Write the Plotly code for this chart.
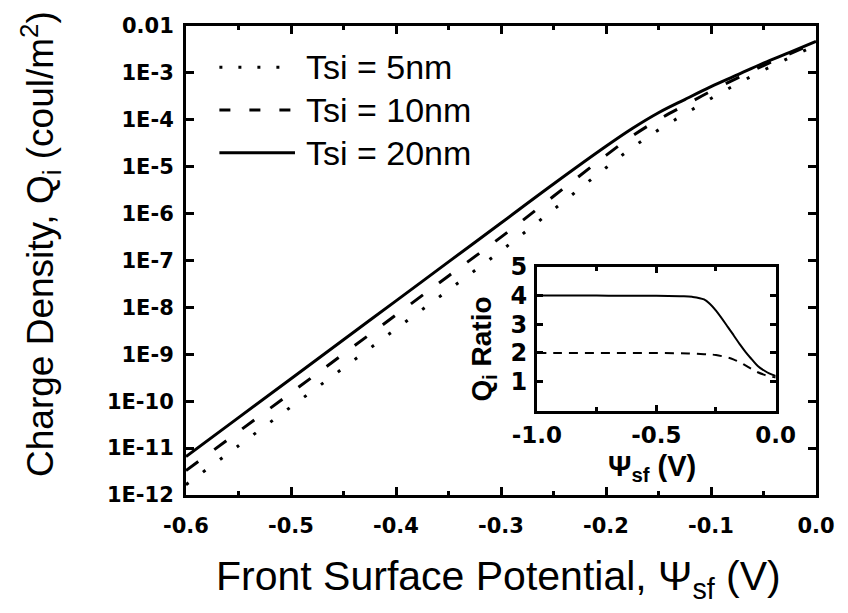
import plotly.graph_objects as go

# ---------------- data ----------------
psi = [-0.6, -0.55, -0.5, -0.45, -0.4, -0.35, -0.3, -0.25, -0.2, -0.175,
       -0.15, -0.125, -0.1, -0.075, -0.05, -0.025, 0.0]
q_5nm = [1.66e-12, 1.12e-11, 7.59e-11, 5.13e-10, 3.47e-9, 2.34e-8, 1.61e-7,
         1.22e-6, 9.5e-6, 2.55e-5, 6.1e-5, 1.33e-4, 2.85e-4, 5.85e-4,
         1.14e-3, 2.12e-3, 3.90e-3]
q_10nm = [3.31e-12, 2.24e-11, 1.51e-10, 1.02e-9, 6.92e-9, 4.68e-8, 3.15e-7,
          2.34e-6, 1.74e-5, 4.5e-5, 1.01e-4, 2.04e-4, 4.08e-4, 7.75e-4,
          1.43e-3, 2.54e-3, 4.49e-3]
q_20nm = [6.61e-12, 4.47e-11, 3.02e-10, 2.04e-9, 1.38e-8, 9.33e-8, 6.31e-7,
          4.27e-6, 2.72e-5, 6.5e-5, 1.41e-4, 2.70e-4, 5.08e-4, 9.05e-4,
          1.62e-3, 2.75e-3, 4.68e-3]

inset_psi = [-1.0, -0.9, -0.8, -0.7, -0.6, -0.5, -0.4, -0.35, -0.3, -0.275,
             -0.25, -0.2, -0.175, -0.15, -0.125, -0.1, -0.075, -0.05, -0.025, 0.0]
ratio_20 = [4.0, 4.0, 4.0, 3.99, 3.99, 3.99, 3.97, 3.95, 3.86, 3.70,
            3.47, 2.9, 2.6, 2.3, 2.02, 1.78, 1.55, 1.4, 1.28, 1.2]
ratio_10 = [2.0, 2.0, 2.0, 2.0, 2.0, 2.0, 1.99, 1.98, 1.96, 1.95,
            1.93, 1.84, 1.77, 1.68, 1.56, 1.44, 1.33, 1.25, 1.19, 1.15]

x_ticks = [-0.6, -0.5, -0.4, -0.3, -0.2, -0.1, 0.0]
x_ticktext = ["-0.6", "-0.5", "-0.4", "-0.3", "-0.2", "-0.1", "0.0"]
y_ticks = [1e-12, 1e-11, 1e-10, 1e-9, 1e-8, 1e-7, 1e-6, 1e-5, 1e-4, 1e-3, 1e-2]
y_ticktext = ["1E-12", "1E-11", "1E-10", "1E-9", "1E-8", "1E-7", "1E-6",
              "1E-5", "1E-4", "1E-3", "0.01"]
inset_x_ticks = [-1.0, -0.5, 0.0]
inset_x_ticktext = ["-1.0", "-0.5", "0.0"]
inset_y_ticks = [1, 2, 3, 4, 5]

legend_labels = ["Tsi = 5nm", "Tsi = 10nm", "Tsi = 20nm"]

# ---------------- styles ----------------
BLACK = "#000000"
DOT = "3px,18px"
DASH = "15px,20px"
TICKFONT = dict(family="DejaVu Sans", size=21, color=BLACK, weight="bold")
INSET_XTICKFONT = dict(family="DejaVu Sans", size=23, color=BLACK, weight="bold")
INSET_YTICKFONT = dict(family="DejaVu Sans", size=24, color=BLACK, weight="bold")
SANS = "Liberation Sans, Arial"

fig = go.Figure()

fig.add_trace(go.Scatter(x=psi, y=q_5nm, mode="lines",
                         line=dict(color=BLACK, width=3, dash=DOT, shape="spline"),
                         showlegend=False))
fig.add_trace(go.Scatter(x=psi, y=q_10nm, mode="lines",
                         line=dict(color=BLACK, width=3, dash=DASH, shape="spline"),
                         showlegend=False))
fig.add_trace(go.Scatter(x=psi, y=q_20nm, mode="lines",
                         line=dict(color=BLACK, width=3, shape="spline"),
                         showlegend=False))

fig.add_trace(go.Scatter(x=inset_psi, y=ratio_20, mode="lines", xaxis="x2", yaxis="y2",
                         line=dict(color=BLACK, width=2, shape="spline"), showlegend=False))
fig.add_trace(go.Scatter(x=inset_psi, y=ratio_10, mode="lines", xaxis="x2", yaxis="y2",
                         line=dict(color=BLACK, width=2, dash="9px,7px", shape="spline"),
                         showlegend=False))

axis_common = dict(showgrid=False, zeroline=False, showline=True, linecolor=BLACK,
                   linewidth=3, mirror="ticks", ticks="inside", tickcolor=BLACK,
                   tickwidth=3)

fig.update_layout(
    width=848, height=613, autosize=False,
    margin=dict(l=186, r=19, t=23, b=118),
    paper_bgcolor="white", plot_bgcolor="white",
    showlegend=False,
    xaxis=dict(range=[-0.6, 0.0], tickvals=x_ticks, ticktext=x_ticktext,
               ticklen=8, tickfont=TICKFONT, ticklabelstandoff=10,
               minor=dict(ticks="inside", ticklen=4, tickwidth=3, tickcolor=BLACK,
                          dtick=0.05, tick0=0, showgrid=False),
               **axis_common),
    yaxis=dict(type="log", range=[-12, -2], tickvals=y_ticks, ticktext=y_ticktext,
               ticklen=8, tickfont=TICKFONT, ticklabelstandoff=5, **axis_common),
    xaxis2=dict(domain=[0.557, 0.936], anchor="y2", range=[-1.0, 0.0],
                tickvals=inset_x_ticks, ticktext=inset_x_ticktext, ticklen=6,
                tickfont=INSET_XTICKFONT, ticklabelstandoff=2,
                minor=dict(ticks="inside", ticklen=4, tickwidth=3, tickcolor=BLACK,
                           dtick=0.25, tick0=0, showgrid=False),
                **axis_common),
    yaxis2=dict(domain=[0.180, 0.487], anchor="x2", range=[0, 5],
                tickvals=inset_y_ticks, ticklen=6, tickfont=INSET_YTICKFONT,
                ticklabelstandoff=2, **axis_common),
)

# legend keys (drawn manually to match the long line samples)
key_x0, key_x1, text_x = 0.053, 0.173, 0.187
key_rows = [0.912, 0.821, 0.730]
key_dashes = ["3px,16px", "11px,19px", "solid"]
for lab, yrow, dsh in zip(legend_labels, key_rows, key_dashes):
    fig.add_shape(type="line", xref="paper", yref="paper", x0=key_x0, x1=key_x1,
                  y0=yrow, y1=yrow, line=dict(color=BLACK, width=3, dash=dsh))
    fig.add_annotation(text=lab, xref="paper", yref="paper", x=text_x, y=yrow,
                       xanchor="left", yanchor="middle", showarrow=False,
                       font=dict(family=SANS, size=34, color=BLACK))

# axis titles
fig.add_annotation(text="Front Surface Potential, Ψ<sub>sf</sub> (V)", xref="paper",
                   yref="paper", x=0.496, y=-0.18, xanchor="center", yanchor="middle",
                   showarrow=False, font=dict(family=SANS, size=41, color=BLACK))
fig.add_annotation(text="Charge Density, Q<sub>i</sub> (coul/m<sup>2</sup>)", xref="paper",
                   yref="paper", x=-0.232, y=0.535, xanchor="center", yanchor="middle",
                   textangle=-90, showarrow=False,
                   font=dict(family=SANS, size=37, color=BLACK))
fig.add_annotation(text="Q<sub>i</sub> Ratio", xref="paper", yref="paper",
                   x=0.472, y=0.311, xanchor="center", yanchor="middle", textangle=-90,
                   showarrow=False,
                   font=dict(family=SANS, size=28, color=BLACK, weight="bold"))
fig.add_annotation(text="Ψ<sub>sf</sub> (V)", xref="paper", yref="paper",
                   x=0.739, y=0.058, xanchor="center", yanchor="middle",
                   showarrow=False,
                   font=dict(family=SANS, size=29, color=BLACK, weight="bold"))

fig.write_html("out.html")
